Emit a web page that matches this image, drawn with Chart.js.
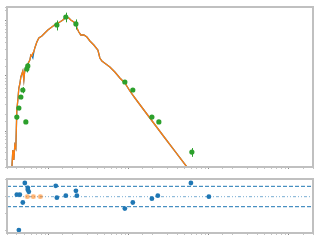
<!DOCTYPE html>
<html>
<head>
<meta charset="utf-8">
<script src="https://cdn.jsdelivr.net/npm/chart.js@4"></script>
<style>
html, body { margin: 0; padding: 0; background: #fff; }
#wrap { position: relative; width: 320px; height: 240px; }
canvas { position: absolute; left: 0; }
</style>
</head>
<body>
<div id="wrap">
<canvas id="sed" width="320" height="175" style="top:0"></canvas>
<canvas id="resid" width="320" height="65" style="top:175px"></canvas>
</div>
<script>
// model spectrum (wavelength in micron, flux in arbitrary units)
var modelWave = [0.345, 0.355, 0.365, 0.376, 0.387, 0.398, 0.410, 0.422, 0.434, 0.447,
  0.460, 0.473, 0.487, 0.501, 0.516, 0.546, 0.579, 0.596, 0.613, 0.631,
  0.649, 0.668, 0.708, 0.750, 0.818, 0.891, 0.972, 1.09, 1.22, 1.37,
  1.50, 1.63, 1.78, 1.88, 2.05, 2.18, 2.24, 2.37, 2.51, 2.74,
  2.99, 3.26, 3.65, 4.10, 4.22, 4.34, 4.60, 5.16, 5.79, 6.68,
  7.72, 8.91, 10.3, 11.9, 18.3, 28.2, 37.6, 53.1, 57.9];
var modelFlux = [0.214, 0.453, 0.298, 0.558, 0.492, 2.40, 3.64, 6.01, 7.10, 9.51,
  10.8, 12.2, 8.39, 12.7, 13.8, 16.4, 19.3, 23.8, 22.8, 25.9,
  27.0, 31.9, 41.0, 48.4, 52.6, 59.6, 67.6, 76.6, 86.8, 94.3,
  102.6, 116, 111.5, 102.6, 94.3, 86.8, 73.5, 62.1, 54.8, 54.8,
  50.4, 42.7, 36.1, 29.3, 24.8, 21.0, 18.5, 16.4, 14.4, 11.7,
  9.12, 7.41, 5.30, 3.96, 1.72, 0.747, 0.434, 0.223, 0.189];
var modelFluxAlt = [0.214, 0.453, 0.298, 0.558, 0.492, 2.40, 3.64, 6.01, 7.10, 9.51,
  10.8, 12.2, 8.39, 12.7, 13.8, 16.4, 19.3, 23.8, 22.8, 21.0,
  27.0, 31.9, 41.0, 48.4, 52.6, 59.6, 67.6, 76.6, 86.8, 94.3,
  102.6, 116, 111.5, 102.6, 94.3, 86.8, 73.5, 62.1, 54.8, 54.8,
  50.4, 42.7, 36.1, 29.3, 24.8, 21.0, 18.5, 16.4, 14.4, 11.7,
  9.12, 7.41, 5.30, 3.96, 1.72, 0.747, 0.434, 0.223, 0.189];

// photometry
var photWave = [0.398, 0.422, 0.447, 0.473, 0.531, 0.546, 0.516, 1.26, 1.63, 2.18, 8.91, 11.2, 19.4, 23.7, 61.3];
var photFlux = [1.79, 2.61, 4.13, 5.53, 13.3, 15.1, 1.46, 83.2, 116, 86.8, 7.72, 5.53, 1.79, 1.46, 0.416];
var photErr = [0.16, 0.23, 0.36, 0.7, 1.8, 2.0, 0.05, 17, 23, 18, 0.3, 0.2, 0.07, 0.06, 0.075];

// residuals
var residWave = [0.398, 0.434, 0.501, 0.473, 0.546, 0.546, 0.562, 0.422, 1.22, 1.26, 1.63, 2.18, 2.24, 8.91, 11.2, 19.4, 23.0, 59.6, 100];
var residVal = [0.12, 0.12, 0.82, -0.35, 0.53, 0.41, 0.29, -2.0, 0.65, -0.06, 0.06, 0.35, 0.06, -0.71, -0.35, -0.12, 0.06, 0.82, 0];
var excludedWave = [0.531, 0.546, 0.631, 0.649, 0.772, 0.794];
var excludedVal = [0, 0, 0, 0, 0, 0];
var sigmaUp = 0.62, sigmaLow = -0.6;
var waveRange = [0.3, 2000];

function pts(xs, ys) {
  return xs.map(function (x, i) { return { x: x, y: ys[i] }; });
}

var frame = {
  id: 'frame',
  afterDatasetsDraw: function (chart) {
    var a = chart.chartArea, c = chart.ctx;
    c.save();
    c.strokeStyle = '#c0c0c0';
    c.lineWidth = 2;
    c.strokeRect(a.left, a.top, a.right - a.left, a.bottom - a.top);
    c.restore();
  }
};

var errorBars = {
  id: 'errorBars',
  afterDatasetsDraw: function (chart) {
    var xs = chart.scales.x, ys = chart.scales.y, c = chart.ctx;
    c.save();
    c.strokeStyle = '#2ca02c';
    c.lineWidth = 1;
    photWave.forEach(function (w, i) {
      var px = Math.round(xs.getPixelForValue(w)) + 0.5;
      c.beginPath();
      c.moveTo(px, ys.getPixelForValue(photFlux[i] - photErr[i]));
      c.lineTo(px, ys.getPixelForValue(photFlux[i] + photErr[i]));
      c.stroke();
    });
    c.restore();
  }
};

function tickColor(ctx) {
  return ctx.tick && ctx.tick.major ? '#8a8a8a' : '#c4c4c4';
}

function axis(extra) {
  var base = {
    border: { display: false },
    grid: { drawOnChartArea: false, drawTicks: true, tickLength: 2, color: tickColor },
    ticks: { display: false }
  };
  return Object.assign(base, extra);
}

new Chart(document.getElementById('sed'), {
  type: 'scatter',
  data: {
    datasets: [
      {
        data: pts(photWave, photFlux),
        pointRadius: 2.6,
        pointBackgroundColor: '#2ca02c',
        pointBorderWidth: 0,
        order: 0
      },
      {
        data: pts(modelWave, modelFlux),
        showLine: true,
        borderColor: '#ff7f0e',
        borderWidth: 1.3,
        pointRadius: 0,
        order: 1
      },
      {
        data: pts(modelWave, modelFluxAlt),
        showLine: true,
        borderColor: '#1f77b4',
        borderWidth: 1.3,
        pointRadius: 0,
        order: 2
      }
    ]
  },
  options: {
    responsive: false,
    animation: false,
    layout: { padding: { left: 5, right: 7, top: 7, bottom: 6 } },
    plugins: { legend: { display: false }, tooltip: { enabled: false } },
    scales: {
      x: axis({ type: 'logarithmic', min: waveRange[0], max: waveRange[1] }),
      y: axis({ type: 'logarithmic', min: 0.223, max: 176 })
    }
  },
  plugins: [errorBars, frame]
});

new Chart(document.getElementById('resid'), {
  type: 'scatter',
  data: {
    datasets: [
      {
        data: pts(residWave, residVal),
        pointRadius: 2.4,
        pointBackgroundColor: '#1f77b4',
        pointBorderWidth: 0,
        order: 0
      },
      {
        data: pts(excludedWave, excludedVal),
        pointRadius: 2.4,
        pointBackgroundColor: 'rgba(255,127,14,0.35)',
        pointBorderWidth: 0,
        order: 1
      },
      {
        data: pts(waveRange, [sigmaUp, sigmaUp]),
        showLine: true, pointRadius: 0,
        borderColor: '#1f77b4', borderWidth: 1, borderDash: [4, 2],
        order: 2
      },
      {
        data: pts(waveRange, [0, 0]),
        showLine: true, pointRadius: 0,
        borderColor: 'rgba(31,119,180,0.6)', borderWidth: 1, borderDash: [3, 2, 1, 2, 1, 2],
        order: 3
      },
      {
        data: pts(waveRange, [sigmaLow, sigmaLow]),
        showLine: true, pointRadius: 0,
        borderColor: '#1f77b4', borderWidth: 1, borderDash: [4, 2],
        order: 4
      }
    ]
  },
  options: {
    responsive: false,
    animation: false,
    layout: { padding: { left: 5, right: 7, top: 3, bottom: 5 } },
    plugins: { legend: { display: false }, tooltip: { enabled: false } },
    scales: {
      x: axis({ type: 'logarithmic', min: waveRange[0], max: waveRange[1] }),
      y: axis({ type: 'linear', min: -2.176, max: 1.059, ticks: { display: false, stepSize: 1, includeBounds: false } })
    }
  },
  plugins: [frame]
});
</script>
</body>
</html>
